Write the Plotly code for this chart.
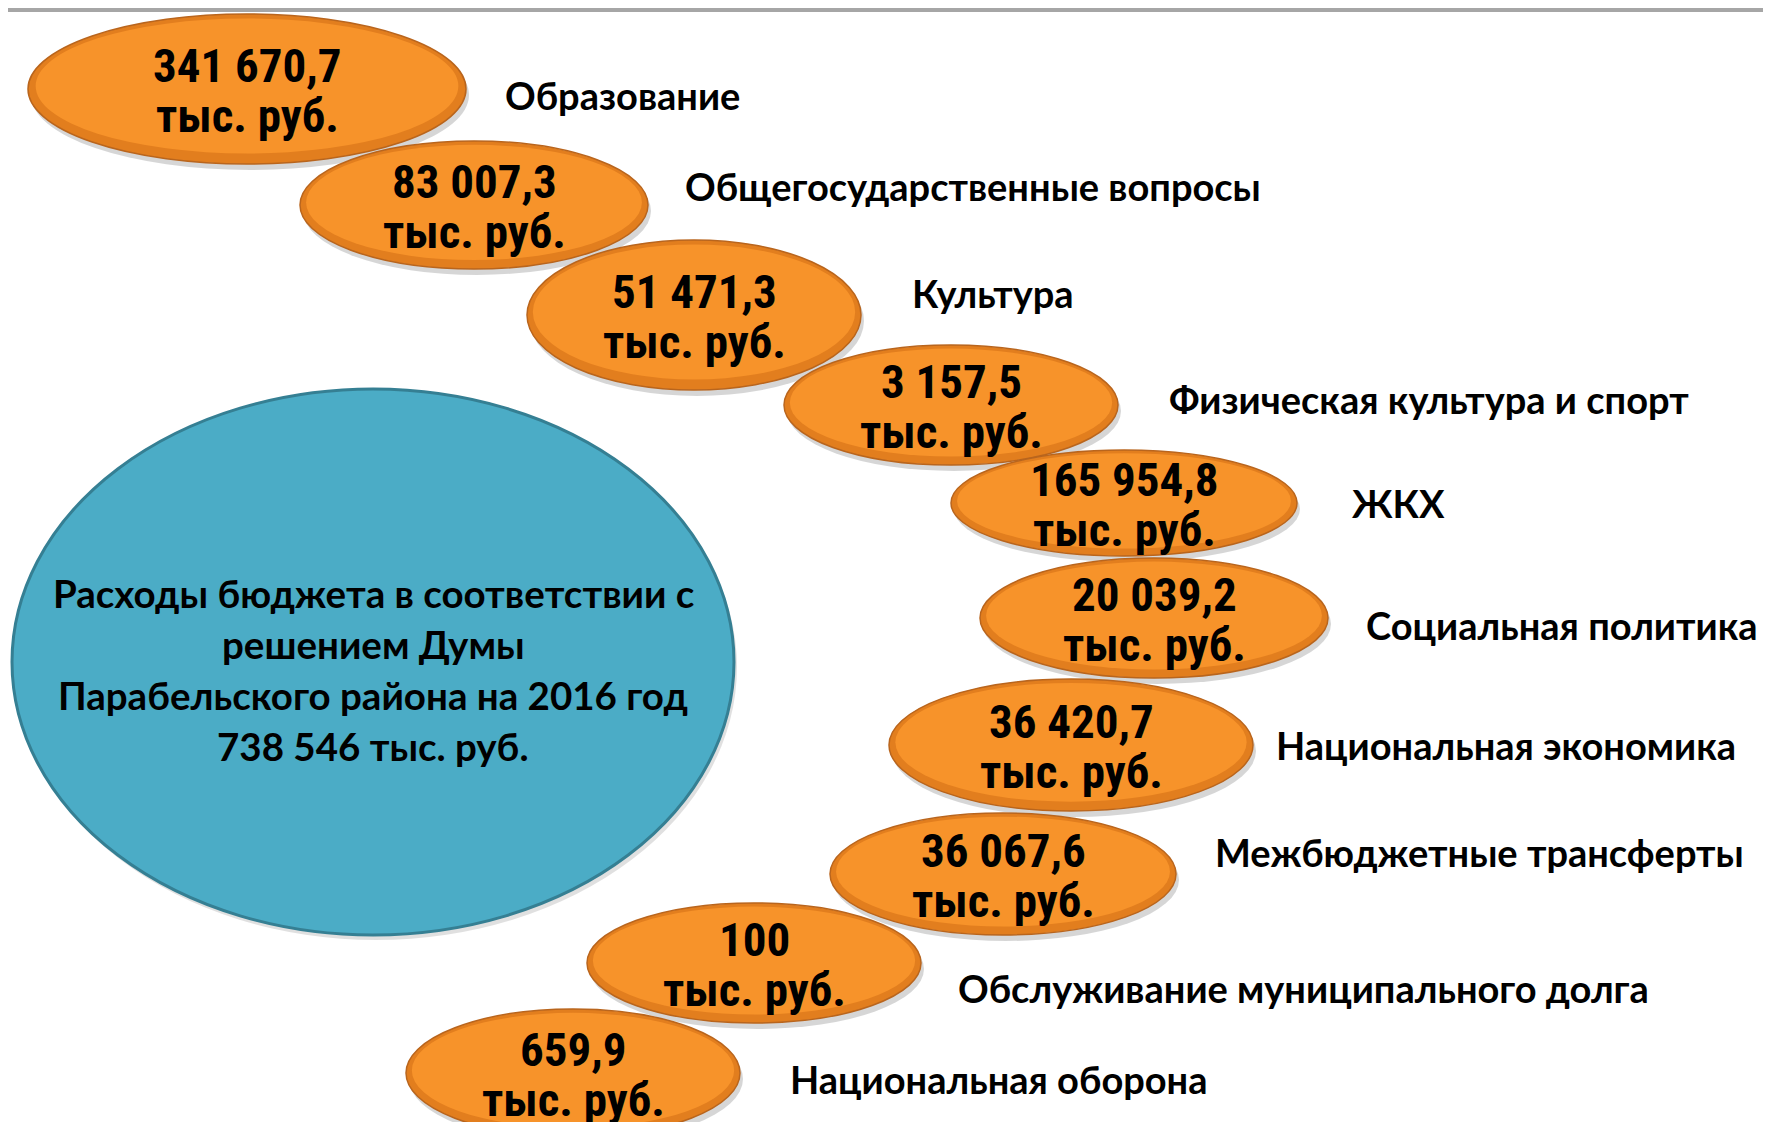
import plotly.graph_objects as go

# ---- data ----
categories = [
    "Образование",
    "Общегосударственные вопросы",
    "Культура",
    "Физическая культура и спорт",
    "ЖКХ",
    "Социальная политика",
    "Национальная экономика",
    "Межбюджетные трансферты",
    "Обслуживание муниципального долга",
    "Национальная оборона",
]
values = [341670.7, 83007.3, 51471.3, 3157.5, 165954.8, 20039.2, 36420.7, 36067.6, 100, 659.9]
unit = "тыс. руб."
total_value = 738546
total_title = ["Расходы бюджета в соответствии с", "решением Думы",
               "Парабельского района на 2016 год"]

# ---- layout (pixel geometry of the diagram, not data) ----
W, H = 1771, 1122
OFF = 8  # page body margin compensation
bubbles = [
    (247, 89, 219, 75),
    (474, 205, 174, 64),
    (694, 315, 167, 75),
    (951, 405, 167, 60),
    (1124, 503, 173, 53),
    (1154, 618, 174, 60),
    (1071, 745, 182, 66),
    (1003, 874, 173, 61),
    (754, 963, 167, 60),
    (573, 1073, 167, 64),
]
label_pos = [
    (503, 95), (683, 186), (910, 293), (1167, 399), (1350, 503),
    (1364, 625), (1274, 745), (1213, 852), (956, 988), (788, 1079),
]
big = (373, 662, 361, 273)

NUM_FONT = "Liberation Sans Narrow, Arial Narrow, Roboto Condensed, Liberation Sans, sans-serif"
LBL_FONT = "Lato, Calibri, Open Sans, sans-serif"


def fmt(v):
    if float(v).is_integer():
        s = f"{int(v):,}".replace(",", " ")
    else:
        s = f"{v:,.1f}".replace(",", " ").replace(".", ",")
    return s


def ell(cx, cy, rx, ry, **kw):
    return dict(type="circle", xref="x", yref="y",
                x0=cx - rx, x1=cx + rx, y0=cy - ry, y1=cy + ry, **kw)


fig = go.Figure()
fig.add_trace(go.Scatter(x=[0, W], y=[0, H], mode="markers",
                         marker=dict(opacity=0), hoverinfo="skip", showlegend=False))

shapes = []
shapes.append(dict(type="line", xref="x", yref="y", x0=0, x1=W + OFF, y0=OFF + 2, y1=OFF + 2,
                   line=dict(color="#a6a6a6", width=4)))

cx, cy, rx, ry = big
shapes.append(ell(cx + 3, cy + 5, rx, ry, fillcolor="rgba(0,0,0,0.12)", line=dict(width=0)))
shapes.append(ell(cx, cy, rx, ry, fillcolor="#4BACC6", line=dict(color="#357F93", width=3)))

annotations = []
for (cx, cy, rx, ry) in bubbles:
    shapes.append(ell(cx + 3, cy + 6, rx, ry, fillcolor="rgba(0,0,0,0.16)", line=dict(width=0)))
    shapes.append(ell(cx, cy, rx, ry, fillcolor="#E27E1E", line=dict(color="#B9651D", width=1.5)))
    shapes.append(ell(cx, cy - ry * 0.04, rx * 0.965, ry * 0.9, fillcolor="#F7932A", line=dict(width=0)))

for i, v in enumerate(values):
    cx, cy, rx, ry = bubbles[i]
    annotations.append(dict(x=cx, y=cy - 24, xref="x", yref="y", showarrow=False,
                            text=f"<b>{fmt(v)}</b>", xanchor="center", yanchor="middle",
                            font=dict(family=NUM_FONT, size=47, color="#000")))
    annotations.append(dict(x=cx, y=cy + 26, xref="x", yref="y", showarrow=False,
                            text=f"<b>{unit}</b>", xanchor="center", yanchor="middle",
                            font=dict(family=NUM_FONT, size=47, color="#000")))
    lx, ly = label_pos[i]
    annotations.append(dict(x=lx, y=ly, xref="x", yref="y", showarrow=False,
                            text=f"<b>{categories[i]}</b>", xanchor="left", yanchor="middle",
                            font=dict(family=LBL_FONT, size=38, color="#000")))

cx, cy, rx, ry = big
lines = total_title + [f"{fmt(total_value)} {unit}"]
for j, t in enumerate(lines):
    annotations.append(dict(x=cx, y=cy - 69 + j * 51, xref="x", yref="y", showarrow=False,
                            text=f"<b>{t}</b>", xanchor="center", yanchor="middle",
                            font=dict(family=LBL_FONT, size=38.5, color="#000")))

fig.update_layout(
    width=W, height=H,
    margin=dict(l=0, r=0, t=0, b=0),
    paper_bgcolor="white", plot_bgcolor="white",
    xaxis=dict(range=[OFF, W + OFF], visible=False, fixedrange=True),
    yaxis=dict(range=[H + OFF, OFF], visible=False, fixedrange=True),
    shapes=shapes, annotations=annotations, showlegend=False,
)
fig.write_html("out.html")
